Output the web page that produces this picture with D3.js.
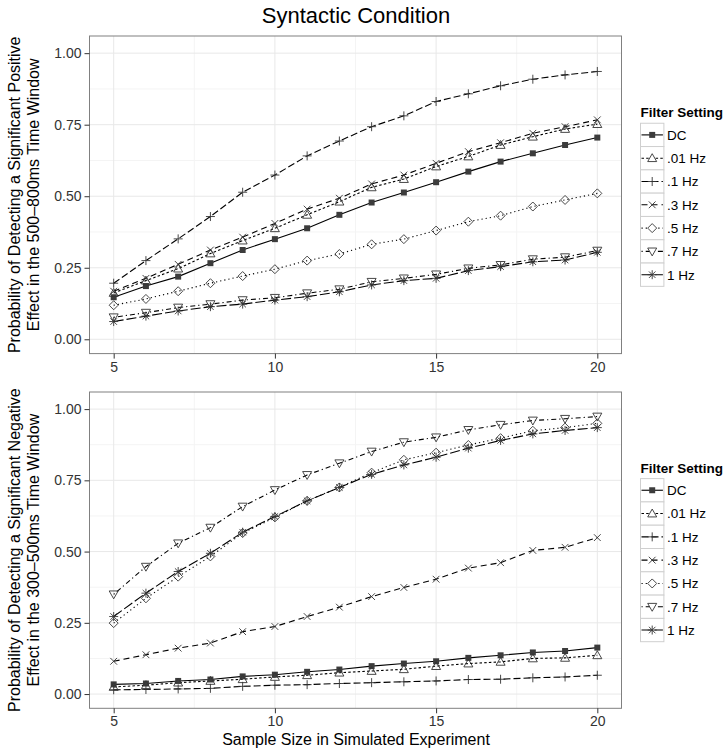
<!DOCTYPE html>
<html><head><meta charset="utf-8">
<script src="https://cdn.jsdelivr.net/npm/d3@7"></script>
<style>body{margin:0;background:#fff}svg{display:block}</style>
</head><body>
<script>
const sampleSizes = [5,6,7,8,9,10,11,12,13,14,15,16,17,18,19,20];
const filterSettings = ["DC", ".01 Hz", ".1 Hz", ".3 Hz", ".5 Hz", ".7 Hz", "1 Hz"];
const xTicks = [5,10,15,20];
const yTicks = [0,0.25,0.5,0.75,1];
const yTickLabels = ["0.00","0.25","0.50","0.75","1.00"];

// Top panel: positive effect 500-800ms
const posDC   = [0.147,0.186,0.219,0.266,0.312,0.350,0.388,0.435,0.478,0.513,0.549,0.586,0.621,0.650,0.679,0.705];
const pos01   = [0.162,0.205,0.247,0.300,0.345,0.388,0.435,0.481,0.531,0.560,0.604,0.639,0.679,0.708,0.735,0.752];
const pos1    = [0.196,0.275,0.351,0.429,0.514,0.574,0.641,0.693,0.743,0.781,0.831,0.858,0.886,0.909,0.924,0.936];
const pos3    = [0.168,0.213,0.262,0.312,0.357,0.405,0.455,0.493,0.543,0.574,0.615,0.656,0.687,0.720,0.743,0.767];
const pos5    = [0.119,0.141,0.168,0.196,0.221,0.245,0.275,0.298,0.332,0.350,0.380,0.411,0.432,0.464,0.487,0.510];
const pos7    = [0.077,0.093,0.111,0.123,0.137,0.145,0.161,0.175,0.201,0.213,0.227,0.248,0.260,0.280,0.287,0.310];
const pos1Hz  = [0.062,0.081,0.099,0.114,0.123,0.137,0.149,0.166,0.190,0.205,0.213,0.240,0.254,0.271,0.277,0.304];

// Bottom panel: negative effect 300-500ms
const negDC   = [0.034,0.037,0.046,0.051,0.062,0.068,0.078,0.086,0.098,0.107,0.115,0.127,0.136,0.146,0.151,0.163];
const neg01   = [0.025,0.031,0.040,0.046,0.052,0.060,0.066,0.075,0.081,0.087,0.098,0.107,0.113,0.125,0.127,0.136];
const neg1    = [0.015,0.016,0.018,0.020,0.027,0.031,0.033,0.037,0.040,0.043,0.046,0.051,0.052,0.057,0.060,0.066];
const neg3    = [0.115,0.138,0.161,0.179,0.219,0.237,0.272,0.305,0.342,0.374,0.403,0.442,0.461,0.504,0.515,0.549];
const neg5    = [0.249,0.336,0.412,0.483,0.565,0.620,0.678,0.725,0.777,0.822,0.847,0.874,0.898,0.924,0.935,0.950];
const neg7    = [0.350,0.447,0.529,0.584,0.658,0.716,0.769,0.810,0.851,0.884,0.901,0.927,0.945,0.960,0.966,0.974];
const neg1Hz  = [0.272,0.354,0.430,0.494,0.568,0.623,0.678,0.725,0.771,0.804,0.831,0.863,0.890,0.913,0.925,0.935];

const topSeries = [posDC,pos01,pos1,pos3,pos5,pos7,pos1Hz];
const bottomSeries = [negDC,neg01,neg1,neg3,neg5,neg7,neg1Hz];

// styles per filter setting
const dashes = [null, "2.5,2.2", "7,3", "6,4", "1.2,3", "1.2,3,5,3", "10,3"];
const shapes = ["square","triangle","plus","times","diamond","triangleDown","asterisk"];

function shapePath(type){
  const r = 4.5;
  switch(type){
    case "square": return `M-3,-3H3V3H-3Z`;
    case "triangle": return `M0,${-r}L${r},${r*0.75}L${-r},${r*0.75}Z`;
    case "triangleDown": return `M0,${r}L${r},${-r*0.75}L${-r},${-r*0.75}Z`;
    case "plus": return `M${-r},0H${r}M0,${-r}V${r}`;
    case "times": {const a=r*0.75; return `M${-a},${-a}L${a},${a}M${-a},${a}L${a},${-a}`;}
    case "diamond": return `M0,${-r}L${r},0L0,${r}L${-r},0Z`;
    case "asterisk": {const a=r*0.72; return `M${-r},0H${r}M0,${-r}V${r}M${-a},${-a}L${a},${a}M${-a},${a}L${a},${-a}`;}
  }
}

const W = 724, H = 750;
const FONT = "'Liberation Sans', Arial, Helvetica, sans-serif";
const svg = d3.select("body").append("svg").attr("width",W).attr("height",H)
  .style("font-family",FONT);

svg.append("text").attr("x",356).attr("y",23).attr("text-anchor","middle")
  .attr("font-size",22).text("Syntactic Condition");

const panelL = 89.5, panelR = 621.5;
const x = d3.scaleLinear().domain([4.25,20.75]).range([panelL,panelR]);

function drawPanel(series, top, bottom, titleLines){
  const y = d3.scaleLinear().domain([-0.05,1.06]).range([bottom,top]);
  const g = svg.append("g");
  g.append("rect").attr("x",panelL).attr("y",top).attr("width",panelR-panelL).attr("height",bottom-top).attr("fill","#fff");
  const xMinor = [7.5,12.5,17.5];
  const yMinor = [0.125,0.375,0.625,0.875];
  g.selectAll(".xm").data(xMinor).join("line").attr("x1",d=>x(d)).attr("x2",d=>x(d)).attr("y1",top).attr("y2",bottom).attr("stroke","#f4f4f4").attr("stroke-width",1);
  g.selectAll(".ym").data(yMinor).join("line").attr("y1",d=>y(d)).attr("y2",d=>y(d)).attr("x1",panelL).attr("x2",panelR).attr("stroke","#f4f4f4").attr("stroke-width",1);
  g.selectAll(".xg").data(xTicks).join("line").attr("x1",d=>x(d)).attr("x2",d=>x(d)).attr("y1",top).attr("y2",bottom).attr("stroke","#e8e8e8").attr("stroke-width",1);
  g.selectAll(".yg").data(yTicks).join("line").attr("y1",d=>y(d)).attr("y2",d=>y(d)).attr("x1",panelL).attr("x2",panelR).attr("stroke","#e8e8e8").attr("stroke-width",1);

  const line = d3.line().x((d,i)=>x(sampleSizes[i])).y(d=>y(d));
  series.forEach((vals,k)=>{
    g.append("path").datum(vals).attr("d",line).attr("fill","none").attr("stroke","#000")
      .attr("stroke-width",1.1).attr("stroke-dasharray",dashes[k]);
  });
  series.forEach((vals,k)=>{
    const filled = shapes[k]==="square";
    g.selectAll(null).data(vals).join("path")
      .attr("transform",(d,i)=>`translate(${x(sampleSizes[i])},${y(d)})`)
      .attr("d",shapePath(shapes[k]))
      .attr("fill",filled?"#3c3c3c":"none")
      .attr("stroke",filled?"none":"#333")
      .attr("stroke-width",0.9);
  });

  g.append("rect").attr("x",panelL).attr("y",top).attr("width",panelR-panelL).attr("height",bottom-top)
    .attr("fill","none").attr("stroke","#808080").attr("stroke-width",1);

  const ya = d3.axisLeft(y).tickValues(yTicks).tickFormat((d,i)=>yTickLabels[i]).tickSize(5).tickPadding(3);
  const yg = g.append("g").attr("transform",`translate(${panelL},0)`).call(ya);
  yg.select(".domain").remove();
  yg.selectAll("line").attr("stroke","#333");
  yg.selectAll("text").attr("font-size",14).attr("fill","#333").style("font-family",FONT);
  const xa = d3.axisBottom(x).tickValues(xTicks).tickSize(5).tickPadding(3);
  const xg = g.append("g").attr("transform",`translate(0,${bottom})`).call(xa);
  xg.select(".domain").remove();
  xg.selectAll("line").attr("stroke","#333");
  xg.selectAll("text").attr("font-size",14).attr("fill","#333").style("font-family",FONT);

  const cy = (top+bottom)/2;
  const t = g.append("text").attr("transform",`translate(19.5,${cy}) rotate(-90)`).attr("text-anchor","middle").attr("font-size",16);
  t.append("tspan").attr("x",0).attr("dy",0).text(titleLines[0]);
  t.append("tspan").attr("x",0).attr("dy",19).text(titleLines[1]);

  const keyH = 23.3, keyW = 23.4, lx = 640.5;
  const legTop = cy - (keyH*7)/2 + 10;
  g.append("text").attr("x",lx).attr("y",legTop-6).attr("font-size",13.5).attr("font-weight","bold").text("Filter Setting");
  filterSettings.forEach((name,k)=>{
    const ky = legTop + k*keyH;
    g.append("rect").attr("x",lx).attr("y",ky).attr("width",keyW).attr("height",keyH).attr("fill","#fff").attr("stroke","#cfcfcf").attr("stroke-width",1);
    g.append("line").attr("x1",lx+1).attr("x2",lx+keyW-1).attr("y1",ky+keyH/2).attr("y2",ky+keyH/2)
      .attr("stroke","#000").attr("stroke-width",1.1).attr("stroke-dasharray",dashes[k]);
    const filled = shapes[k]==="square";
    g.append("path").attr("transform",`translate(${lx+keyW/2},${ky+keyH/2})`).attr("d",shapePath(shapes[k]))
      .attr("fill",filled?"#3c3c3c":"#fff").attr("stroke",filled?"none":"#333").attr("stroke-width",0.9);
    g.append("text").attr("x",lx+keyW+3).attr("y",ky+keyH/2+4.8).attr("font-size",13.5).text(name);
  });
}

drawPanel(topSeries, 36, 353.6, ["Probability of Detecting a Significant Positive","Effect in the 500\u2013800ms Time Window"]);
drawPanel(bottomSeries, 392, 708.3, ["Probability of Detecting a Significant Negative","Effect in the 300\u2013500ms Time Window"]);

svg.append("text").attr("x",356).attr("y",745).attr("text-anchor","middle").attr("font-size",16)
  .text("Sample Size in Simulated Experiment");
</script>
</body></html>
